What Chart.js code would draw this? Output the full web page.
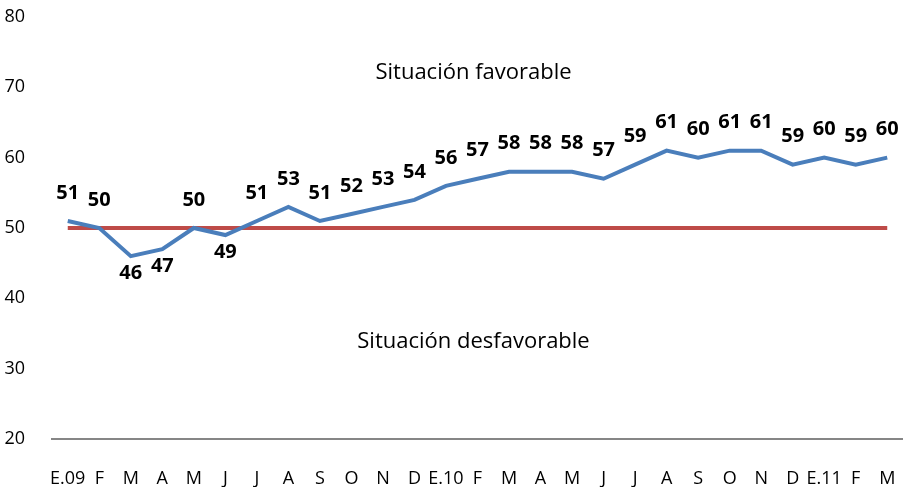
<!DOCTYPE html>
<html>
<head>
<meta charset="utf-8">
<script src="https://cdn.jsdelivr.net/npm/chart.js@4/dist/chart.umd.min.js"></script>
<style>
  html, body { margin: 0; padding: 0; background: #fff; }
  #wrap { width: 903px; height: 487px; position: relative; }
</style>
</head>
<body>
<div id="wrap"><canvas id="chart"></canvas></div>
<script>
const months = ['E.09', 'F', 'M', 'A', 'M', 'J', 'J', 'A', 'S', 'O', 'N', 'D',
    'E.10', 'F', 'M', 'A', 'M', 'J', 'J', 'A', 'S', 'O', 'N', 'D',
    'E.11', 'F', 'M'];
const indice = [51, 50, 46, 47, 50, 49, 51, 53, 51, 52, 53, 54,
    56, 57, 58, 58, 58, 57, 59, 61, 60, 61, 61, 59,
    60, 59, 60];
const umbral = 50;
const yTicks = [20, 30, 40, 50, 60, 70, 80];
const zonas = ['Situación favorable', 'Situación desfavorable'];
const zonasValor = [72.1, 33.9];

const FONT = '"Open Sans", "DejaVu Sans", sans-serif';

// etiquetas de valor + textos de zona
const labelsPlugin = {
    id: 'labelsPlugin',
    afterDatasetsDraw(chart) {
        const ctx = chart.ctx;
        const x = chart.scales.x;
        const y = chart.scales.y;
        ctx.save();
        ctx.fillStyle = '#000';
        ctx.textAlign = 'center';
        ctx.textBaseline = 'middle';
        ctx.font = 'bold 20px ' + FONT;
        indice.forEach((v, i) => {
            const px = x.getPixelForValue(i);
            const py = y.getPixelForValue(v);
            const dy = v < umbral ? 17 : -28;
            ctx.fillText(String(v), px, py + dy);
        });
        ctx.font = '22px ' + FONT;
        const cx = (chart.chartArea.left + chart.chartArea.right) / 2 - 4;
        zonas.forEach((t, i) => {
            ctx.fillText(t, cx, y.getPixelForValue(zonasValor[i]));
        });
        ctx.restore();
    }
};

new Chart(document.getElementById('chart'), {
    type: 'line',
    data: {
        labels: months,
        datasets: [{
            data: indice,
            borderColor: '#4A7EBB',
            borderWidth: 4,
            pointRadius: 0,
            tension: 0
        }, {
            data: months.map(() => umbral),
            borderColor: '#BE4B48',
            borderWidth: 4,
            pointRadius: 0,
            tension: 0
        }]
    },
    options: {
        responsive: true,
        maintainAspectRatio: false,
        animation: false,
        layout: { padding: { top: 17, right: 0, left: 0, bottom: 0 } },
        plugins: {
            legend: { display: false },
            tooltip: { enabled: false }
        },
        scales: {
            x: {
                offset: true,
                grid: { display: false },
                border: { display: true, color: '#868686', width: 2 },
                ticks: {
                    color: '#000',
                    font: { family: FONT, size: 18 },
                    padding: 21,
                    maxRotation: 0,
                    autoSkip: false
                },
                afterFit(scale) {
                    scale.height = 48;
                    scale.paddingLeft = 0;
                    scale.paddingRight = 0;
                }
            },
            y: {
                min: 20,
                max: 80,
                grid: { display: false },
                border: { display: false },
                afterBuildTicks(scale) {
                    scale.ticks = yTicks.map(v => ({ value: v }));
                },
                ticks: {
                    color: '#000',
                    font: { family: FONT, size: 18 },
                    padding: 19
                },
                afterFit(scale) {
                    scale.width = 52;
                    scale.paddingTop = 0;
                    scale.paddingBottom = 0;
                }
            }
        }
    },
    plugins: [labelsPlugin]
});
</script>
</body>
</html>
